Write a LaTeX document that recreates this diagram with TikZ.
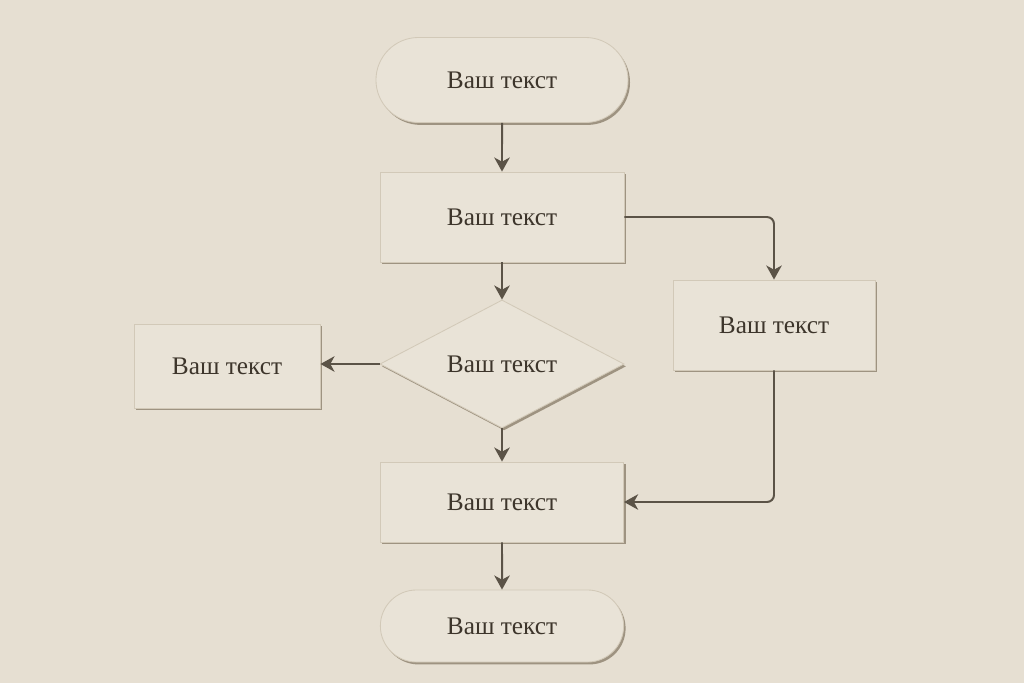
\documentclass[tikz,border=0pt]{standalone}
\usepackage{fontspec}
\setmainfont{Liberation Serif}
\usetikzlibrary{shapes.geometric,shapes.misc,shadows,arrows.meta}

\definecolor{paper}{HTML}{E6DFD2}
\definecolor{card}{HTML}{E9E3D7}
\definecolor{cardedge}{HTML}{D2C9B8}
\definecolor{shade}{HTML}{8C806D}
\definecolor{ink}{HTML}{3D352B}
\definecolor{wire}{HTML}{5B5347}

\begin{document}
\begin{tikzpicture}[x=0.025cm,y=-0.025cm,
 emboss/.style={fill=card,draw=cardedge,line width=0.6pt,text=ink,
  font=\fontsize{18}{21}\selectfont,
  drop shadow={shadow xshift=1.4pt,shadow yshift=-1.7pt,fill=shade,opacity=0.8}},
 stepbox/.style={emboss,rectangle,inner sep=0pt,minimum width=#1},
 stepbox/.default=6.1cm,
 terminal/.style={emboss,rounded rectangle,inner sep=0pt,minimum width=#1},
 terminal/.default=6.1cm,
 decision/.style={emboss,diamond,inner sep=0pt,minimum width=6.1cm,minimum height=3.2cm},
 link/.style={draw=wire,line width=1.4pt,rounded corners=5pt,
  -{Stealth[length=10pt,width=11pt,inset=3pt]}}]
 \useasboundingbox[fill=paper] (0,0) rectangle (1024,683);
 % main column
 \node[terminal=6.3cm,minimum height=2.125cm] (start) at (502,80) {Ваш текст};
 \node[stepbox,minimum height=2.25cm] (step1) at (502,217) {Ваш текст};
 \node[decision] (check) at (502,364) {Ваш текст};
 \node[stepbox=6.08cm,minimum height=2cm] (step3) at (502,502) {Ваш текст};
 \node[terminal=6.08cm,minimum height=1.8cm] (finish) at (502,626) {Ваш текст};
 % side branches
 \node[stepbox=4.65cm,minimum height=2.1cm] (alt) at (227,366) {Ваш текст};
 \node[stepbox=5.05cm,minimum height=2.25cm] (side) at (774,325) {Ваш текст};
 % connectors
 \draw[link] (start) -- (step1);
 \draw[link] (step1) -- (check);
 \draw[link] (step1.east) -| (side.north);
 \draw[link] (check.west) -- (alt.east |- check.west);
 \draw[link] (check) -- (step3);
 \draw[link] (side.south) |- (step3.east);
 \draw[link] (step3) -- (finish);
\end{tikzpicture}
\end{document}
